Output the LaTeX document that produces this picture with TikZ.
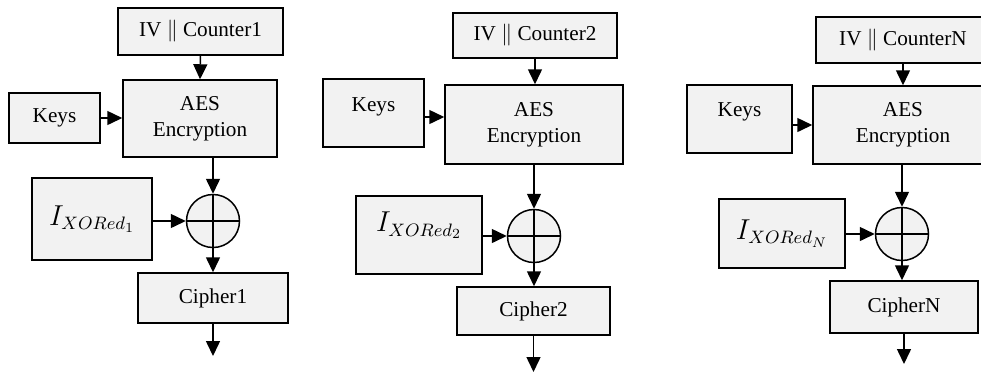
\documentclass[tikz,border=0pt]{standalone}
\usepackage{fontspec}
\setmainfont{Liberation Serif}
\usetikzlibrary{arrows.meta}
\definecolor{boxgray}{HTML}{F2F2F2}
\begin{document}
\begin{tikzpicture}[x=0.5pt,y=-0.5pt,line width=0.75pt,
    blk/.style={draw,fill=boxgray,inner sep=0pt,align=center,font=\rmfamily\fontsize{10.6}{12.8}\selectfont},
    ibox/.style={blk,font=\fontsize{13.5}{15}\selectfont},
    xorc/.style={draw,circle,fill=boxgray,inner sep=0pt,minimum size=26.5pt},
    flow/.style={-{Triangle[length=7.5pt,width=7pt]}}]
    \useasboundingbox (0,0) rectangle (981,372);
    \clip (0,0) rectangle (981,372);
    \node[blk,minimum width=82.5pt,minimum height=23.5pt](iva) at (200.5,31.5){IV $\Vert$ Counter1};
    \node[blk,minimum width=77pt,minimum height=38.5pt](aesa) at (200,118.5){AES\\Encryption};
    \node[blk,minimum width=45.5pt,minimum height=25pt](keysa) at (54.5,118){Keys};
    \node[ibox,minimum width=60pt,minimum height=41pt](ixa) at (92,219){$I_{XORed_1}$};
    \node[xorc](xa) at (213,221){};
    \node[blk,minimum width=75pt,minimum height=25pt](ciphera) at (213,298){Cipher1};
    \coordinate (outa) at (213,356);
    \draw (xa.north)--(xa.south) (xa.west)--(xa.east);
    \draw[flow](iva.south)--(aesa.north);
    \draw[flow](keysa.east)--(keysa.east -| aesa.west);
    \draw[flow](xa.north |- aesa.south)--(xa.north);
    \draw[flow](ixa.east |- xa.west)--(xa.west);
    \draw[flow](xa.south)--(xa.south |- ciphera.north);
    \draw[flow](ciphera.south)--(ciphera.south |- outa);
    \node[blk,minimum width=82pt,minimum height=22.5pt](ivb) at (535,35.5){IV $\Vert$ Counter2};
    \node[blk,minimum width=89pt,minimum height=39.5pt](aesb) at (534,124.5){AES\\Encryption};
    \node[blk,minimum width=50.5pt,minimum height=34pt](keysb) at (373.5,113){\raisebox{8pt}{Keys}};
    \node[ibox,minimum width=63pt,minimum height=39pt](ixb) at (419,235){\raisebox{13pt}{$I_{XORed_2}$}};
    \node[xorc](xb) at (534,236){};
    \node[blk,minimum width=76.5pt,minimum height=24pt](cipherb) at (533.5,311){Cipher2};
    \coordinate (outb) at (533.5,372);
    \draw (xb.north)--(xb.south) (xb.west)--(xb.east);
    \draw[flow](ivb.south)--(ivb.south |- aesb.north);
    \draw[flow]([yshift=-2pt]keysb.east)--([yshift=-2pt]keysb.east -| aesb.west);
    \draw[flow](xb.north |- aesb.south)--(xb.north);
    \draw[flow](ixb.east |- xb.west)--(xb.west);
    \draw[flow](xb.south)--(xb.south |- cipherb.north);
    \draw[flow](cipherb.south)--(cipherb.south |- outb);
    \node[blk,minimum width=87pt,minimum height=23pt](ivc) at (903,40){IV $\Vert$ CounterN};
    \node[blk,minimum width=90pt,minimum height=39pt](aesc) at (903,125){AES\\Encryption};
    \node[blk,minimum width=52.5pt,minimum height=34pt](keysc) at (739.5,119){\raisebox{9pt}{Keys}};
    \node[ibox,minimum width=63pt,minimum height=34.5pt](ixc) at (782,233.5){\raisebox{3pt}{$I_{XORed_N}$}};
    \node[xorc](xc) at (902,234){};
    \node[blk,minimum width=74pt,minimum height=26pt](cipherc) at (904,307){CipherN};
    \coordinate (outc) at (903,364);
    \draw (xc.north)--(xc.south) (xc.west)--(xc.east);
    \draw[flow](ivc.south)--(aesc.north);
    \draw[flow]([yshift=-3pt]keysc.east)--([yshift=-3pt]keysc.east -| aesc.west);
    \draw[flow](xc.north |- aesc.south)--(xc.north);
    \draw[flow](ixc.east |- xc.west)--(xc.west);
    \draw[flow](xc.south)--(xc.south |- cipherc.north);
    \draw[flow](cipherc.south)--(cipherc.south |- outc);
\end{tikzpicture}
\end{document}
